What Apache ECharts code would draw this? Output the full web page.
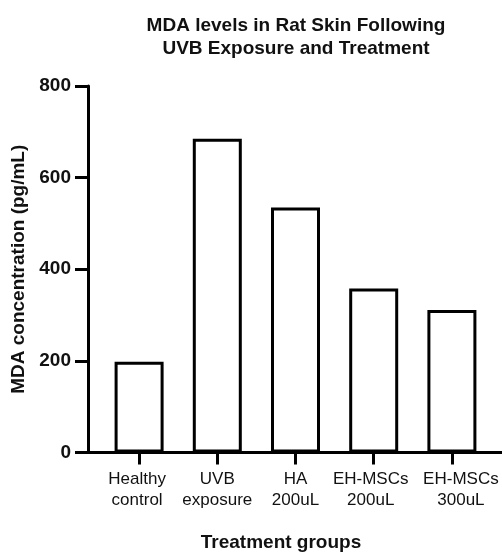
<!DOCTYPE html>
<html>
<head>
<meta charset="utf-8">
<script src="https://cdn.jsdelivr.net/npm/echarts@6/dist/echarts.min.js"></script>
<style>html,body{margin:0;padding:0;background:#fff}#c{width:502px;height:554px}</style>
</head>
<body>
<div id="c"></div>
<script>
const categories = ['Healthy\ncontrol', 'UVB\nexposure', 'HA\n200uL', 'EH-MSCs\n200uL', 'EH-MSCs\n300uL'];
const mdaValues = [198, 685, 535, 358, 311];
const yTicks = [0, 200, 400, 600, 800];

const FONT = '"Liberation Sans", Arial, Helvetica, sans-serif';
const chart = echarts.init(document.getElementById('c'), null, {renderer: 'canvas'});
const yMin = yTicks[0], yMax = yTicks[yTicks.length - 1], yStep = yTicks[1] - yTicks[0];
const black = '#000';
// small horizontal nudges of the tick labels, as in the original figure
const labelPads = [[0, 4, 0, 0], [0, 0, 0, 0], [0, 0, 0, 0], [0, 6, 0, 0], [0, 0, 0, 18]];
const catData = categories.map((c, i) => ({value: c, textStyle: {padding: labelPads[i]}}));
chart.setOption({
  animation: false,
  backgroundColor: '#fff',
  title: {
    text: 'MDA levels in Rat Skin Following\nUVB Exposure and Treatment',
    left: 296, top: 14, textAlign: 'center', padding: 0,
    textStyle: {fontFamily: FONT, fontSize: 19, fontWeight: 'bold', color: '#111', lineHeight: 23}
  },
  grid: [
    {left: 100, right: 11, top: 86, bottom: 101.5, outerBoundsMode: 'none', containLabel: false},
    {left: 88, right: 0, top: 86, bottom: 101.5, outerBoundsMode: 'none', containLabel: false}
  ],
  xAxis: [
    {
      type: 'category', gridIndex: 0, data: catData, boundaryGap: true,
      axisLine: {show: false},
      axisTick: {show: true, alignWithLabel: true, length: 12, lineStyle: {color: black, width: 3}},
      axisLabel: {show: true, interval: 0, margin: 16, fontFamily: FONT, fontSize: 17, color: '#111', lineHeight: 21},
      splitLine: {show: false}
    },
    {
      type: 'value', gridIndex: 1, min: 0, max: 1,
      axisLine: {show: true, onZero: false, lineStyle: {color: black, width: 3}},
      axisTick: {show: false}, axisLabel: {show: false}, splitLine: {show: false},
      name: 'Treatment groups', nameLocation: 'middle', nameGap: 81,
      nameTextStyle: {fontFamily: FONT, fontSize: 19, fontWeight: 'bold', color: '#111', padding: [0, 28, 0, 0]}
    }
  ],
  yAxis: [
    {
      type: 'value', gridIndex: 0, min: yMin, max: yMax, interval: yStep, show: false
    },
    {
      type: 'value', gridIndex: 1, min: yMin, max: yMax, interval: yStep,
      splitLine: {show: false},
      axisLine: {show: true, onZero: false, lineStyle: {color: black, width: 3}},
      axisTick: {show: true, length: 13, lineStyle: {color: black, width: 3}},
      axisLabel: {margin: 17, fontFamily: FONT, fontSize: 19, fontWeight: 'bold', color: '#111'},
      name: 'MDA concentration (pg/mL)', nameLocation: 'middle', nameGap: 52,
      nameTextStyle: {fontFamily: FONT, fontSize: 19, fontWeight: 'bold', color: '#111'}
    }
  ],
  series: [{
    type: 'bar', xAxisIndex: 0, yAxisIndex: 0,
    data: mdaValues,
    barWidth: 49,
    itemStyle: {color: '#fff', borderColor: black, borderWidth: 3}
  }]
});
</script>
</body>
</html>
